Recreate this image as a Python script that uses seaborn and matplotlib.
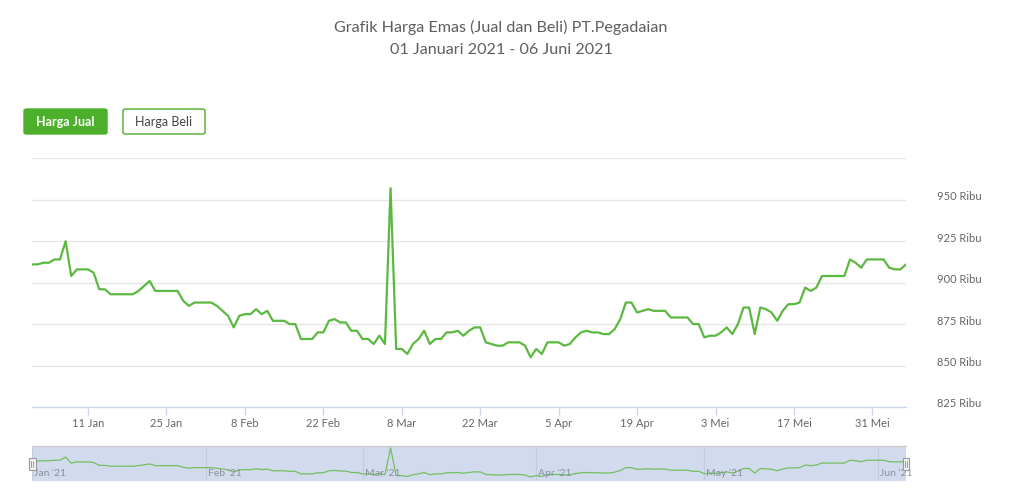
import pandas as pd
import seaborn as sns
import matplotlib.pyplot as plt
from matplotlib.patches import FancyBboxPatch, Rectangle
from matplotlib.transforms import ScaledTranslation, blended_transform_factory

# Harga jual emas harian (dalam ribu rupiah), 01 Jan - 06 Jun 2021
harga_jual = [
    911, 911, 912, 912, 914, 914, 925, 904, 908, 908,
    908, 906, 896, 896, 893, 893, 893, 893, 893, 895,
    898, 901, 895, 895, 895, 895, 895, 889, 886, 888,
    888, 888, 888, 886, 883, 880, 873, 880, 881, 881,
    884, 881, 883, 877, 877, 877, 875, 875, 866, 866,
    866, 870, 870, 877, 878, 876, 876, 871, 871, 866,
    866, 863, 868, 863, 957, 860, 860, 857, 863, 866,
    871, 863, 866, 866, 870, 870, 871, 868, 871, 873,
    873, 864, 863, 862, 862, 864, 864, 864, 862, 855,
    860, 857, 864, 864, 864, 862, 863, 867, 870, 871,
    870, 870, 869, 869, 872, 878, 888, 888, 882, 883,
    884, 883, 883, 883, 879, 879, 879, 879, 875, 875,
    867, 868, 868, 870, 873, 869, 875, 885, 885, 869,
    885, 884, 882, 877, 883, 887, 887, 888, 897, 895,
    897, 904, 904, 904, 904, 904, 914, 912, 909, 914,
    914, 914, 914, 909, 908, 908, 911,
]
tanggal = pd.date_range('2021-01-01', '2021-06-06', freq='D')

x_ticks = ['2021-01-11', '2021-01-25', '2021-02-08', '2021-02-22', '2021-03-08', '2021-03-22',
           '2021-04-05', '2021-04-19', '2021-05-03', '2021-05-17', '2021-05-31']
x_labels = ['11 Jan', '25 Jan', '8 Feb', '22 Feb', '8 Mar', '22 Mar',
            '5 Apr', '19 Apr', '3 Mei', '17 Mei', '31 Mei']
y_ticks = [825, 850, 875, 900, 925, 950]
y_labels = ['825 Ribu', '850 Ribu', '875 Ribu', '900 Ribu', '925 Ribu', '950 Ribu']
nav_months = ['2021-01-01', '2021-02-01', '2021-03-01', '2021-04-01', '2021-05-01', '2021-06-01']
nav_labels = ["Jan '21", "Feb '21", "Mar '21", "Apr '21", "May '21", "Jun '21"]

df = pd.DataFrame({'tanggal': tanggal, 'harga': harga_jual})

sns.set_theme(style='white')
plt.rcParams['font.family'] = ['Lato', 'DejaVu Sans']

W, H = 1024, 501
fig = plt.figure(figsize=(W / 100, H / 100), dpi=100)
fig.patch.set_facecolor('white')

hijau = '#4cb02b'
garis = '#5bb840'
abu = '#666666'

# title
fig.text(501 / W, 1 - 27 / H, 'Grafik Harga Emas (Jual dan Beli) PT.Pegadaian',
         ha='center', va='center', fontsize=11.6, color='#5e5e5e')
fig.text(501 / W, 1 - 50 / H, '01 Januari 2021 - 06 Juni 2021',
         ha='center', va='center', fontsize=11.6, color='#5e5e5e')

# buttons
btn1 = FancyBboxPatch((24 / W, 1 - 134 / H), 83 / W, 25 / H,
                      boxstyle='round,pad=0,rounding_size=0.003',
                      transform=fig.transFigure, facecolor=hijau, edgecolor=hijau, lw=1)
btn2 = FancyBboxPatch((123 / W, 1 - 134 / H), 82 / W, 25 / H,
                      boxstyle='round,pad=0,rounding_size=0.003',
                      transform=fig.transFigure, facecolor='white', edgecolor=hijau, lw=1)
fig.patches.extend([btn1, btn2])
fig.text(65.5 / W, 1 - 121.5 / H, 'Harga Jual', ha='center', va='center',
         fontsize=9, color='white', fontweight='bold')
fig.text(164 / W, 1 - 121.5 / H, 'Harga Beli', ha='center', va='center',
         fontsize=9, color='#444444')

# main chart
left, right = 32, 906
ax = fig.add_axes([left / W, 1 - 407 / H, (right - left) / W, (407 - 158.3) / H])
sns.lineplot(data=df, x='tanggal', y='harga', ax=ax, color=garis, linewidth=1.6)
ax.set_xlim(tanggal[0], tanggal[-1])
ax.set_ylim(825, 975)
ax.set_xlabel('')
ax.set_ylabel('')
for s in ['top', 'left', 'right']:
    ax.spines[s].set_visible(False)
ax.spines['bottom'].set_color('#ccd6eb')
ax.spines['bottom'].set_linewidth(1)

for v in y_ticks[1:] + [975]:
    ax.axhline(v, color='#e6e6e6', lw=1, zorder=0)

ax.yaxis.tick_right()
ax.set_yticks(y_ticks)
ax.set_yticklabels(y_labels)
ax.tick_params(axis='y', length=0, pad=22, labelsize=8, labelcolor=abu)
for lbl in ax.get_yticklabels():
    lbl.set_transform(lbl.get_transform() + ScaledTranslation(0, 4 / 100, fig.dpi_scale_trans))

ax.set_xticks(pd.to_datetime(x_ticks))
ax.set_xticklabels(x_labels)
ax.tick_params(axis='x', length=6, width=1, color='#ccd6eb', pad=2, labelsize=8, labelcolor=abu,
               bottom=True)

# navigator
nav = fig.add_axes([left / W, 1 - 481 / H, (right - left) / W, 35 / H])
nav.set_facecolor('#d2dbee')
sns.lineplot(data=df, x='tanggal', y='harga', ax=nav, color='#72bf60', linewidth=0.9)
nav.set_xlim(tanggal[0], tanggal[-1])
nav.set_ylim(841, 964)
nav.set_xticks([])
nav.set_yticks([])
nav.set_xlabel('')
nav.set_ylabel('')
for s in ['left', 'right', 'bottom']:
    nav.spines[s].set_visible(False)
nav.spines['top'].set_color('#cccccc')
nav.spines['top'].set_linewidth(1)

tr = blended_transform_factory(nav.transData, nav.transAxes)
for d, lab in zip(pd.to_datetime(nav_months), nav_labels):
    nav.axvline(d, color='#c3cbdd', lw=0.8, zorder=0)
    nav.text(d, 0.2, lab, transform=tr + ScaledTranslation(2 / 100, 0, fig.dpi_scale_trans),
             ha='left', va='center', fontsize=7.5, color='#8a8f99')

# handles
hw, hh = 7 / (right - left), 12 / 35
for hx in [0, 1]:
    nav.add_patch(Rectangle((hx - hw / 2, 0.5 - hh / 2), hw, hh, transform=nav.transAxes,
                            facecolor='#f2f2f2', edgecolor='#999999', lw=0.8, clip_on=False, zorder=5))
    for off in [-0.8, 0.8]:
        nav.plot([hx + off / (right - left)] * 2, [0.5 - hh / 4, 0.5 + hh / 4],
                 transform=nav.transAxes, color='#999999', lw=0.7, clip_on=False, zorder=6)

fig.savefig('out.png', dpi=100)
